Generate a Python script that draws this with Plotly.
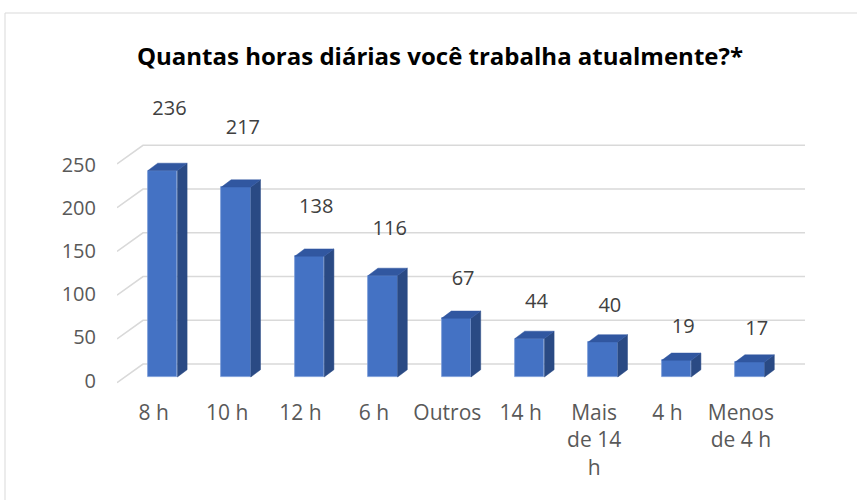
import plotly.graph_objects as go

categories = ["8 h", "10 h", "12 h", "6 h", "Outros", "14 h", "Mais de 14 h", "4 h", "Menos de 4 h"]
tick_labels = ["8 h", "10 h", "12 h", "6 h", "Outros", "14 h", "Mais<br>de 14<br>h", "4 h", "Menos<br>de 4 h"]
values = [236, 217, 138, 116, 67, 44, 40, 19, 17]
y_ticks = [0, 50, 100, 150, 200, 250]
title = "Quantas horas diárias você trabalha atualmente?*"

# ---- geometry / style (pixel-derived constants) ----
W, H = 857, 500
PL, PR, PT, PB = 117, 805, 90, 385           # plot area in pixels
BAND = 73.4                                  # category band width (px)
XR = [-0.5, -0.5 + (PR - PL) / BAND]
S_BAR = 0.875                                # px per unit
Y0_BAR = 377                                 # px of value 0 for bar front faces
YR = [-(PB - Y0_BAR) / S_BAR, (Y0_BAR - PT) / S_BAR]

BACK_DY = (Y0_BAR - 364) / S_BAR             # back wall offset (units)
FRONT_DY = -6.5
DEPTH_X = 26 / BAND                          # floor depth in x units
BAR_OFF = -5.7 / BAND
BAR_W = 29.4 / BAND
SIDE_DX = 9.7 / BAND
SIDE_DY = 7.3 / S_BAR
LAB_Y0, LAB_S = 380.5, 0.862                 # y tick label placement (front plane)

FRONT = "#4472C4"
SIDE = "#2A4A84"
TOP = "#3157A0"
GRID = "#D9D9D9"
TXT = "#595959"
FONT = "Open Sans"

idx = list(range(len(categories)))
fig = go.Figure()

# gridlines (slanted floor edge + back wall) as shapes below the bars
shapes = []
for t in y_ticks:
    shapes.append(dict(type="path", xref="x", yref="y", layer="below",
                       path=f"M {-0.5},{t + FRONT_DY} L {-0.5 + DEPTH_X},{t + BACK_DY} L {XR[1]},{t + BACK_DY}",
                       line=dict(color=GRID, width=1.6)))
shapes.append(dict(type="rect", xref="paper", yref="paper", layer="below",
                   x0=(5 - PL) / (PR - PL), x1=(870 - PL) / (PR - PL),
                   y0=(PB - 520) / (PB - PT), y1=(PB - 13) / (PB - PT),
                   line=dict(color=GRID, width=1)))

# front faces
fig.add_trace(go.Bar(x=idx, y=values, width=BAR_W, offset=BAR_OFF,
                     marker=dict(color=FRONT, line=dict(color="#7A9BD8", width=0.8)),
                     hovertext=categories, hoverinfo="text+y", showlegend=False))

# side faces and top faces
sx, sy, tx, ty = [], [], [], []
for i, v in zip(idx, values):
    x0 = i + BAR_OFF
    x1 = x0 + BAR_W
    sx += [x1, x1 + SIDE_DX, x1 + SIDE_DX, x1, x1, None]
    sy += [0, SIDE_DY, v + SIDE_DY, v, 0, None]
    tx += [x0, x1, x1 + SIDE_DX, x0 + SIDE_DX, x0, None]
    ty += [v, v, v + SIDE_DY, v + SIDE_DY, v, None]
fig.add_trace(go.Scatter(x=sx, y=sy, mode="lines", fill="toself", fillcolor=SIDE,
                         line=dict(color=SIDE, width=0.5),
                         hoverinfo="skip", showlegend=False))
fig.add_trace(go.Scatter(x=tx, y=ty, mode="lines", fill="toself", fillcolor=TOP,
                         line=dict(color=TOP, width=0.5),
                         hoverinfo="skip", showlegend=False))

# data labels
lab_y = [(Y0_BAR - 347 + 1.005 * v) / S_BAR for v in values]
fig.add_trace(go.Scatter(x=[i + 0.215 for i in idx], y=lab_y, mode="text",
                         text=[str(v) for v in values],
                         textfont=dict(family=FONT, size=20, color="#404040"),
                         cliponaxis=False, hoverinfo="skip", showlegend=False))

tick_pos = [(Y0_BAR - LAB_Y0 + LAB_S * t) / S_BAR for t in y_ticks]

fig.update_layout(
    width=W, height=H,
    margin=dict(l=PL, r=W - PR, t=PT, b=H - PB, pad=0),
    paper_bgcolor="white", plot_bgcolor="rgba(0,0,0,0)",
    title=dict(text="<b>" + title + "</b>", x=440 / W, xref="container", xanchor="center",
               y=1 - 57 / H, yref="container", yanchor="middle",
               font=dict(family=FONT, size=24, color="#000000")),
    xaxis=dict(range=XR, tickvals=idx, ticktext=tick_labels, showgrid=False, zeroline=False,
               showline=False, ticks="", ticklabelstandoff=13,
               tickfont=dict(family=FONT, size=21, color=TXT), fixedrange=True),
    yaxis=dict(range=YR, tickvals=tick_pos, ticktext=[str(t) for t in y_ticks],
               showgrid=False, zeroline=False, showline=False,
               ticks="", ticklabelstandoff=20,
               tickfont=dict(family=FONT, size=20, color=TXT), fixedrange=True),
    bargap=0,
    shapes=shapes,
)

fig.write_html("out.html", config={"displayModeBar": False},
               post_script="document.body.style.margin='0px';")
